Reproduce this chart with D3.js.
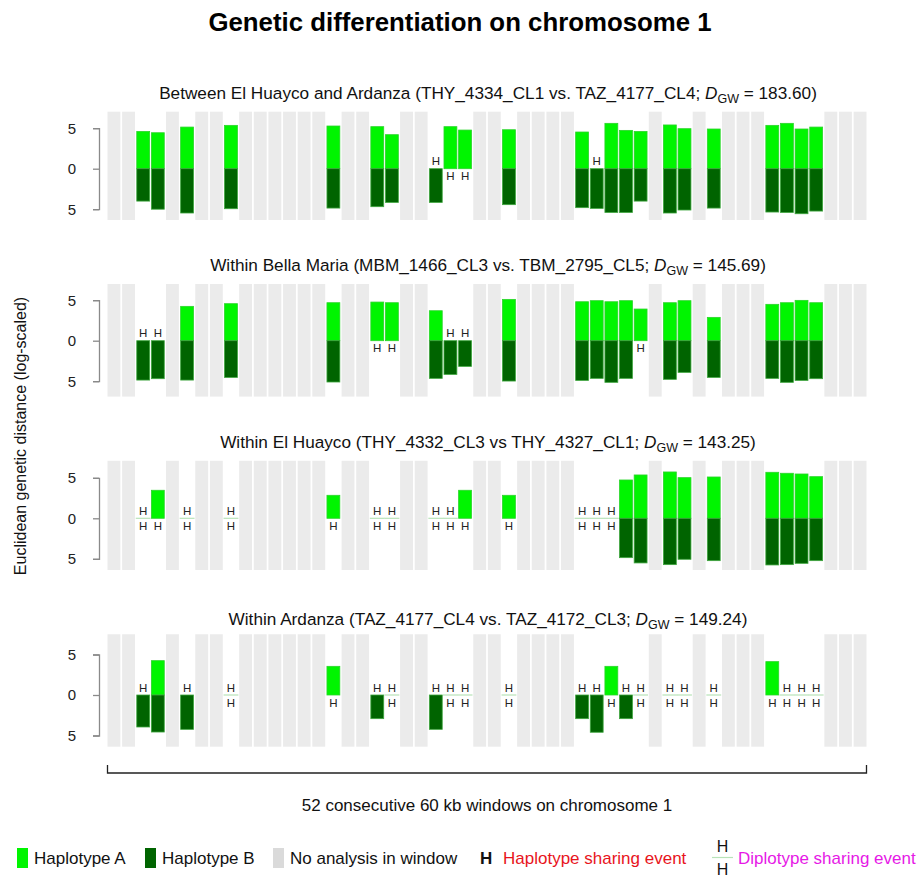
<!DOCTYPE html>
<html>
<head>
<meta charset="utf-8">
<script src="https://cdn.jsdelivr.net/npm/d3@7"></script>
<style>
  body { margin: 0; background: #fff; }
  svg { font-family: "Liberation Sans", Arial, sans-serif; }
</style>
</head>
<body>
<svg id="chart"></svg>
<script>
// 52 windows, the ones with no analysis are the same in every panel
var nWindows = 52;
var noAnalysis = [0,1,4,6,7,9,10,11,12,13,14,16,17,20,21,25,26,28,29,30,31,37,40,42,43,44,49,50,51];
var analysed = [2,3,5,8,15,18,19,22,23,24,27,32,33,34,35,36,38,39,41,45,46,47,48];

// panel titles (text before the D_GW part) and D_GW values
var titles = [
  "Between El Huayco and Ardanza (THY_4334_CL1 vs. TAZ_4177_CL4; ",
  "Within Bella Maria (MBM_1466_CL3 vs. TBM_2795_CL5; ",
  "Within El Huayco (THY_4332_CL3 vs THY_4327_CL1; ",
  "Within Ardanza (TAZ_4177_CL4 vs. TAZ_4172_CL3; "
];
var dgw = ["183.60", "145.69", "143.25", "149.24"];

// haplotype distances per analysed window (0 = sharing event)
var hapA1 = [4.6,4.44,5.14,5.35,5.27,5.19,4.2,0,5.19,4.77,4.81,4.53,0,5.6,4.73,4.6,5.4,4.94,4.9,5.35,5.6,4.9,5.14];
var hapB1 = [4.0,5.0,5.47,4.94,4.86,4.69,4.16,4.16,0,0,4.44,4.81,4.9,5.4,5.4,4.0,5.47,5.1,4.86,5.35,5.4,5.56,5.23];
var hapA2 = [0,0,4.24,4.57,4.69,4.77,4.69,3.7,0,0,5.1,4.81,4.94,4.81,4.94,3.91,4.69,4.94,2.88,4.49,4.69,4.98,4.69];
var hapB2 = [4.86,4.69,4.86,4.53,5.1,0,0,4.65,4.16,3.17,4.98,4.9,4.65,5.14,4.65,0,4.77,3.91,4.53,4.65,5.14,4.9,4.69];
var hapA3 = [0,3.46,0,0,2.84,0,0,0,0,3.46,2.84,0,0,0,4.73,5.35,5.72,5.02,5.1,5.68,5.56,5.47,5.14];
var hapB3 = [0,0,0,0,0,0,0,0,0,0,0,0,0,0,4.86,5.51,5.72,5.06,5.23,5.76,5.72,5.56,5.23];
var hapA4 = [0,4.24,0,0,3.54,0,0,0,0,0,0,0,0,3.54,0,0,0,0,0,4.12,0,0,0];
var hapB4 = [3.95,4.57,4.24,0,0,2.92,0,4.24,0,0,0,2.92,4.6,0,2.92,0,0,0,0,0,0,0,0];

// extent of the grey "no analysis" bars per panel (axis units)
var greyTop = [7.04, 7.0, 7.1, 7.5];
var greyBottom = [6.33, 6.9, 6.38, 6.38];

var yTicks = [-5, 0, 5];

var legendItems = ["Haplotype A", "Haplotype B", "No analysis in window", "Haplotype sharing event", "Diplotype sharing event"];

var colA = "#00f500", colB = "#006400", colGrey = "#ebebeb";

var width = 920, height = 880;
var panelZero = [168.7, 340.7, 518.3, 695];
var unit = 8.1;

var svg = d3.select("#chart").attr("width", width).attr("height", height);

var x = d3.scaleBand()
    .domain(d3.range(nWindows))
    .range([107.5, 866.5])
    .paddingInner(0.12)
    .paddingOuter(0);

var hapA = [hapA1, hapA2, hapA3, hapA4],
    hapB = [hapB1, hapB2, hapB3, hapB4];

var panels = titles.map(function(t, p) {
  return {
    title: t,
    dgw: dgw[p],
    zero: panelZero[p],
    gTop: greyTop[p],
    gBot: greyBottom[p],
    rows: analysed.map(function(w, k) { return {w: w, a: hapA[p][k], b: hapB[p][k]}; })
  };
});

// main title
svg.append("text")
    .attr("x", 460).attr("y", 31)
    .attr("text-anchor", "middle")
    .style("font-size", "25.8px").style("font-weight", "bold")
    .text("Genetic differentiation on chromosome 1");

panels.forEach(function(pn) {
  var y = d3.scaleLinear().domain([-5, 5]).range([pn.zero + 5 * unit, pn.zero - 5 * unit]);
  var g = svg.append("g");

  // title
  var t = g.append("text")
      .attr("x", 488).attr("y", y(0) - 70)
      .attr("text-anchor", "middle")
      .style("font-size", "17.2px").attr("fill", "#111");
  t.append("tspan").text(pn.title);
  t.append("tspan").style("font-style", "italic").text("D");
  t.append("tspan").attr("dy", 4).style("font-size", "12.5px").text("GW");
  t.append("tspan").attr("dy", -4).text(" = " + pn.dgw + ")");

  // grey windows
  g.selectAll("rect.grey").data(noAnalysis).enter().append("rect")
      .attr("class", "grey")
      .attr("x", function(d) { return x(d); })
      .attr("width", x.bandwidth())
      .attr("y", y(pn.gTop))
      .attr("height", y(-pn.gBot) - y(pn.gTop))
      .attr("fill", colGrey);

  // haplotype A bars (up)
  g.selectAll("rect.a").data(pn.rows.filter(function(d) { return d.a > 0; })).enter().append("rect")
      .attr("class", "a")
      .attr("x", function(d) { return x(d.w); })
      .attr("width", x.bandwidth())
      .attr("y", function(d) { return y(d.a); })
      .attr("height", function(d) { return y(0) - y(d.a); })
      .attr("fill", colA).attr("stroke", "#2bd42b").attr("stroke-width", 0.8);

  // haplotype B bars (down)
  g.selectAll("rect.b").data(pn.rows.filter(function(d) { return d.b > 0; })).enter().append("rect")
      .attr("class", "b")
      .attr("x", function(d) { return x(d.w); })
      .attr("width", x.bandwidth())
      .attr("y", y(0))
      .attr("height", function(d) { return y(-d.b) - y(0); })
      .attr("fill", colB).attr("stroke", "#3fa63f").attr("stroke-width", 0.8);

  // diplotype sharing line
  g.selectAll("line.dip").data(pn.rows.filter(function(d) { return d.a === 0 && d.b === 0; })).enter().append("line")
      .attr("class", "dip")
      .attr("x1", function(d) { return x(d.w) - 1; })
      .attr("x2", function(d) { return x(d.w) + x.bandwidth() + 1; })
      .attr("y1", y(0)).attr("y2", y(0))
      .attr("stroke", "#b8e3b8").attr("stroke-width", 1.2);

  // H labels
  g.selectAll("text.ha").data(pn.rows.filter(function(d) { return d.a === 0; })).enter().append("text")
      .attr("class", "ha")
      .attr("x", function(d) { return x(d.w) + x.bandwidth() / 2; })
      .attr("y", y(0) - 3.5)
      .attr("text-anchor", "middle")
      .style("font-size", "11.5px").attr("fill", "#222")
      .text("H");
  g.selectAll("text.hb").data(pn.rows.filter(function(d) { return d.b === 0; })).enter().append("text")
      .attr("class", "hb")
      .attr("x", function(d) { return x(d.w) + x.bandwidth() / 2; })
      .attr("y", y(0) + 11.5)
      .attr("text-anchor", "middle")
      .style("font-size", "11.5px").attr("fill", "#222")
      .text("H");

  // y axis
  var ax = g.append("g")
      .attr("transform", "translate(99,0)")
      .call(d3.axisLeft(y).tickValues(yTicks).tickSize(6).tickPadding(17)
        .tickFormat(function(d) { return Math.abs(d); }));
  ax.selectAll("path, line").attr("stroke", "#8a8a8a").attr("stroke-width", 1.3);
  ax.selectAll("text").style("font-size", "15px").attr("fill", "#222")
      .style("font-family", "Liberation Sans, Arial, sans-serif");
});

// y axis label
svg.append("text")
    .attr("transform", "translate(26,436) rotate(-90)")
    .attr("text-anchor", "middle")
    .style("font-size", "16px").attr("fill", "#111")
    .text("Euclidean genetic distance (log-scaled)");

// bottom bracket over all windows
var bx0 = x(0), bx1 = x(nWindows - 1) + x.bandwidth();
svg.append("path")
    .attr("d", "M" + bx0 + ",765V773H" + bx1 + "V765")
    .attr("fill", "none").attr("stroke", "#222").attr("stroke-width", 1.3);
svg.append("text")
    .attr("x", (bx0 + bx1) / 2).attr("y", 811)
    .attr("text-anchor", "middle")
    .style("font-size", "17px").attr("fill", "#111")
    .text("52 consecutive 60 kb windows on chromosome 1");

// legend
var lg = svg.append("g");
var ly = 864;
lg.append("rect").attr("x", 17).attr("y", 848).attr("width", 11).attr("height", 20).attr("fill", colA);
lg.append("text").attr("x", 34).attr("y", ly).style("font-size", "17px").attr("fill", "#111").text(legendItems[0]);
lg.append("rect").attr("x", 145).attr("y", 848).attr("width", 11).attr("height", 20).attr("fill", colB);
lg.append("text").attr("x", 162).attr("y", ly).style("font-size", "17px").attr("fill", "#111").text(legendItems[1]);
lg.append("rect").attr("x", 273).attr("y", 848).attr("width", 11).attr("height", 20).attr("fill", "#dadada");
lg.append("text").attr("x", 290).attr("y", ly).style("font-size", "17px").attr("fill", "#111").text(legendItems[2]);
lg.append("text").attr("x", 480).attr("y", ly).style("font-size", "17px").style("font-weight", "bold").attr("fill", "#111").text("H");
lg.append("text").attr("x", 503).attr("y", ly).style("font-size", "17px").attr("fill", "#e8141c").text(legendItems[3]);
lg.append("text").attr("x", 722.5).attr("y", 852).attr("text-anchor", "middle").style("font-size", "16px").attr("fill", "#111").text("H");
lg.append("line").attr("x1", 712).attr("x2", 733).attr("y1", 857.5).attr("y2", 857.5).attr("stroke", "#b8e3b8").attr("stroke-width", 1.2);
lg.append("text").attr("x", 722.5).attr("y", 875).attr("text-anchor", "middle").style("font-size", "16px").attr("fill", "#111").text("H");
lg.append("text").attr("x", 738).attr("y", ly).style("font-size", "17px").attr("fill", "#e619e6").text(legendItems[4]);
</script>
</body>
</html>
